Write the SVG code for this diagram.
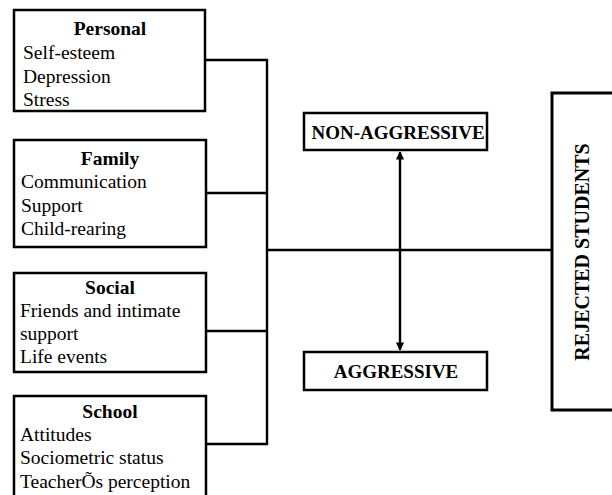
<svg xmlns="http://www.w3.org/2000/svg" width="612" height="495" viewBox="0 0 612 495">
<style>
.box{fill:#fff;stroke:#000;stroke-width:2.5}
.ln{fill:none;stroke:#000;stroke-width:2.4}
.h{font-family:"Liberation Serif",serif;font-weight:bold;font-size:19.5px;text-anchor:middle}
.t{font-family:"Liberation Serif",serif;font-size:19.5px}
.c{font-family:"Liberation Serif",serif;font-weight:bold;font-size:19px;text-anchor:middle}
.r{font-family:"Liberation Serif",serif;font-weight:bold;font-size:20px;text-anchor:middle}
</style>
<defs>
<marker id="ah" viewBox="0 0 10 10" refX="9" refY="5" markerWidth="3.5" markerHeight="3.5" orient="auto-start-reverse">
<path d="M0,0 L10,5 L0,10 Z" fill="#000"/>
</marker>
</defs>
<rect width="612" height="495" fill="#fff"/>
<g id="connectors">
<path class="ln" d="M205,60 H267 V444 H206 M206,193 H267 M206,331 H267 M267,250 H552"/>
<line class="ln" x1="400" y1="152" x2="400" y2="350" marker-start="url(#ah)" marker-end="url(#ah)"/>
</g>
<g id="personal">
<rect class="box" x="14" y="10" width="191" height="101"/>
<text class="h" x="110" y="35">Personal</text>
<text class="t" x="23" y="59">Self-esteem</text>
<text class="t" x="23" y="83">Depression</text>
<text class="t" x="23" y="106">Stress</text>
</g>
<g id="family">
<rect class="box" x="14" y="140" width="192" height="107"/>
<text class="h" x="110" y="165">Family</text>
<text class="t" x="21" y="188">Communication</text>
<text class="t" x="21" y="212">Support</text>
<text class="t" x="21" y="235">Child-rearing</text>
</g>
<g id="social">
<rect class="box" x="14" y="273" width="192" height="99"/>
<text class="h" x="110" y="294">Social</text>
<text class="t" x="20" y="317">Friends and intimate</text>
<text class="t" x="20" y="340">support</text>
<text class="t" x="20" y="363">Life events</text>
</g>
<g id="school">
<rect class="box" x="14" y="396" width="192" height="110"/>
<text class="h" x="110" y="418">School</text>
<text class="t" x="20" y="441">Attitudes</text>
<text class="t" x="20" y="464">Sociometric status</text>
<text class="t" x="20" y="488">TeacherÕs perception</text>
</g>
<g id="non-aggressive">
<rect class="box" x="304" y="113" width="183" height="37"/>
<text class="c" x="398" y="139">NON-AGGRESSIVE</text>
</g>
<g id="aggressive">
<rect class="box" x="304" y="352" width="183" height="38"/>
<text class="c" x="396" y="378">AGGRESSIVE</text>
</g>
<g id="rejected">
<rect x="552" y="93" width="70" height="317" fill="#fff" stroke="#000" stroke-width="3"/>
<text class="r" transform="translate(589,252) rotate(-90)">REJECTED STUDENTS</text>
</g>
</svg>
